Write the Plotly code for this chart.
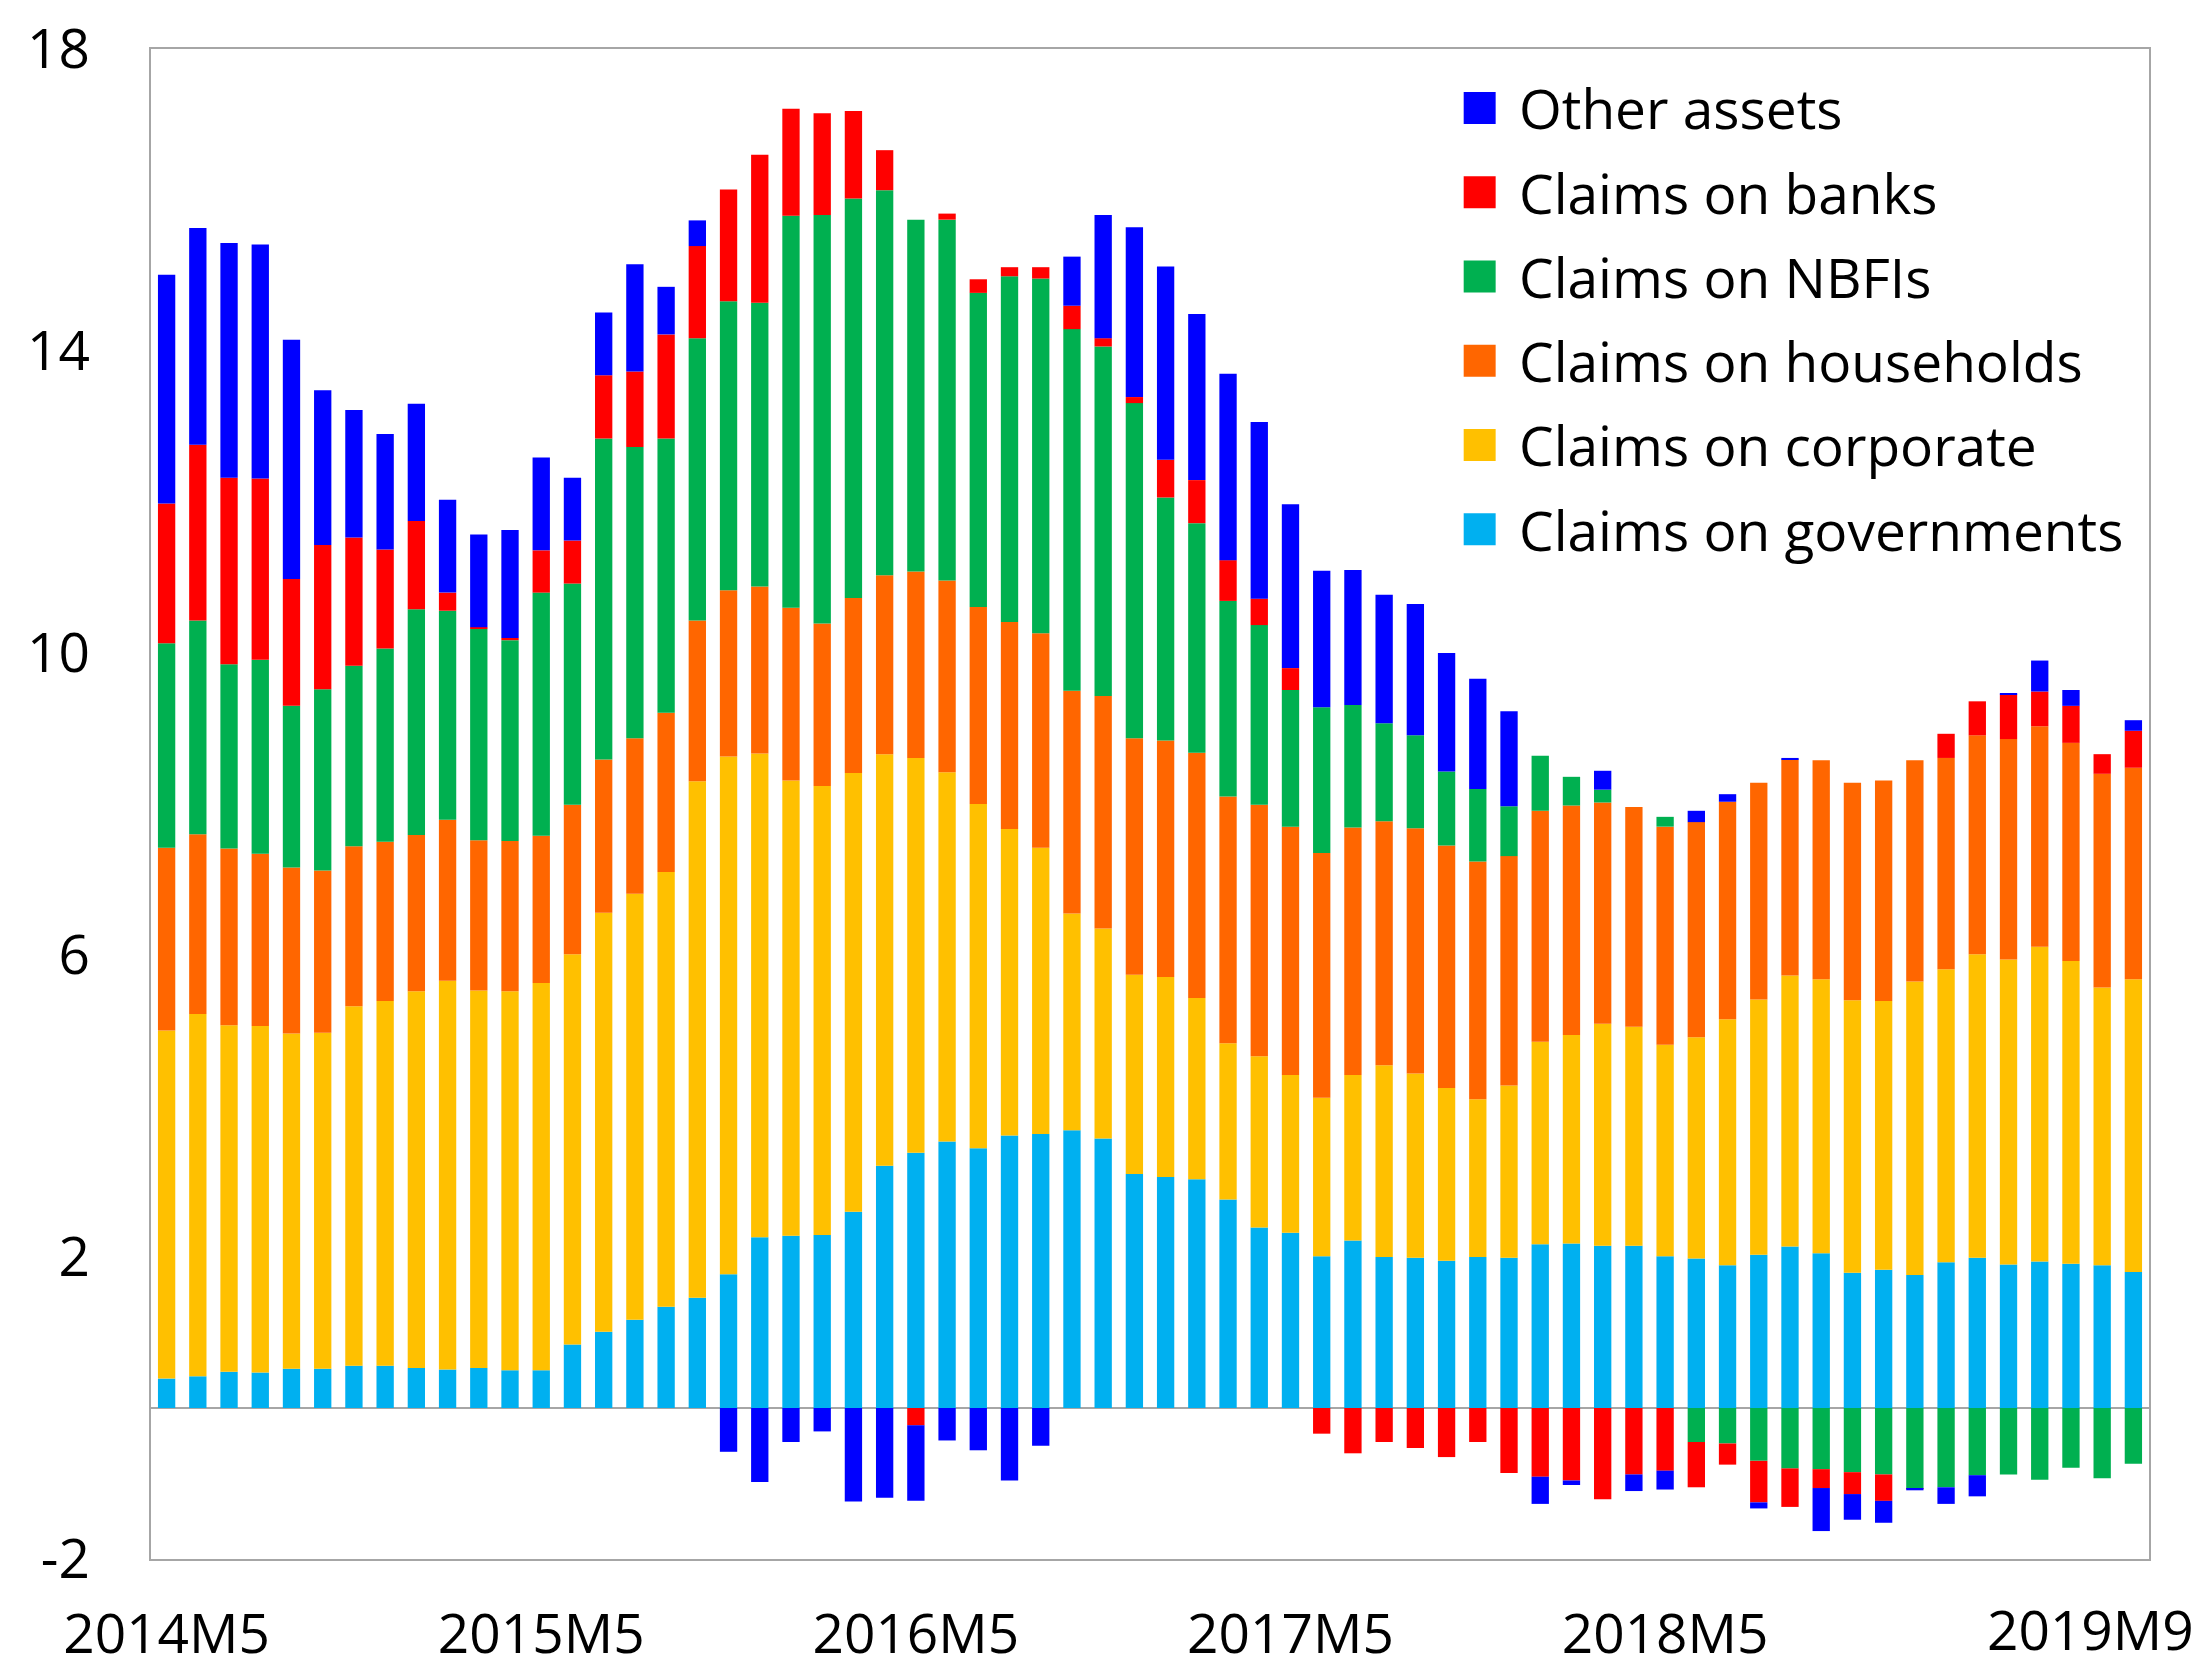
import plotly.graph_objects as go

# ---------------- data ----------------
months = [f"{y}M{m}" for y in range(2014, 2020) for m in range(1, 13)]
categories = months[months.index("2014M5"): months.index("2019M8") + 1]

tick_labels = ["2014M5", "2015M5", "2016M5", "2017M5", "2018M5"]
end_label = "2019M9"
y_ticks = [-2, 2, 6, 10, 14, 18]
y_tick_text = ["-2", "2", "6", "10", "14", "18"]

governments = [0.39, 0.42, 0.48, 0.47, 0.52, 0.52, 0.56, 0.56, 0.53, 0.51, 0.53,
               0.50, 0.50, 0.84, 1.01, 1.17, 1.34, 1.46, 1.77, 2.26, 2.28, 2.29,
               2.60, 3.21, 3.38, 3.53, 3.44, 3.61, 3.63, 3.68, 3.57, 3.10, 3.06,
               3.03, 2.76, 2.39, 2.32, 2.01, 2.22, 2.00, 1.99, 1.95, 2.00, 1.99,
               2.17, 2.18, 2.15, 2.15, 2.01, 1.98, 1.89, 2.03, 2.14, 2.05, 1.79,
               1.83, 1.76, 1.93, 1.99, 1.90, 1.94, 1.91, 1.89, 1.80]
corporate = [4.61, 4.80, 4.59, 4.59, 4.44, 4.45, 4.76, 4.83, 4.99, 5.15, 5.00,
             5.02, 5.13, 5.17, 5.55, 5.64, 5.76, 6.84, 6.86, 6.41, 6.03, 5.95,
             5.81, 5.45, 5.23, 4.89, 4.56, 4.06, 3.79, 2.87, 2.78, 2.64, 2.65,
             2.40, 2.07, 2.27, 2.09, 2.10, 2.19, 2.54, 2.44, 2.29, 2.09, 2.28,
             2.68, 2.76, 2.94, 2.90, 2.80, 2.93, 3.26, 3.38, 3.59, 3.63, 3.61,
             3.56, 3.89, 3.88, 4.02, 4.04, 4.17, 4.01, 3.68, 3.88]
households = [2.42, 2.38, 2.34, 2.28, 2.20, 2.15, 2.12, 2.11, 2.07, 2.13, 1.99,
              1.99, 1.95, 1.98, 2.03, 2.06, 2.11, 2.13, 2.20, 2.21, 2.29, 2.15,
              2.32, 2.37, 2.47, 2.54, 2.61, 2.74, 2.84, 2.95, 3.08, 3.13, 3.13,
              3.25, 3.27, 3.33, 3.29, 3.24, 3.28, 3.23, 3.25, 3.21, 3.15, 3.04,
              3.06, 3.04, 2.93, 2.91, 2.89, 2.85, 2.88, 2.87, 2.86, 2.90, 2.88,
              2.92, 2.93, 2.80, 2.90, 2.92, 2.92, 2.89, 2.83, 2.80]
nbfis = [2.71, 2.83, 2.44, 2.57, 2.14, 2.40, 2.39, 2.56, 2.99, 2.77, 2.80,
         2.66, 3.22, 2.93, 4.25, 3.86, 3.63, 3.74, 3.83, 3.76, 5.19, 5.41,
         5.29, 5.10, 4.66, 4.78, 4.16, 4.58, 4.70, 4.79, 4.63, 4.44, 3.22,
         3.04, 2.59, 2.38, 1.81, 1.93, 1.62, 1.30, 1.23, 0.98, 0.96, 0.66,
         0.73, 0.38, 0.17, 0.00, 0.13, -0.45, -0.47, -0.70, -0.80, -0.81, -0.85,
         -0.88, -1.06, -1.05, -0.89, -0.88, -0.95, -0.79, -0.93, -0.74]
banks = [1.85, 2.33, 2.47, 2.40, 1.68, 1.91, 1.70, 1.31, 1.17, 0.24, 0.02,
         0.03, 0.56, 0.57, 0.84, 1.00, 1.38, 1.22, 1.48, 1.96, 1.42, 1.35,
         1.16, 0.53, -0.23, 0.08, 0.18, 0.12, 0.15, 0.31, 0.11, 0.08, 0.50,
         0.57, 0.54, 0.35, 0.29, -0.34, -0.60, -0.45, -0.53, -0.65, -0.45, -0.86,
         -0.91, -0.96, -1.21, -0.88, -0.83, -0.60, -0.28, -0.55, -0.51, -0.25, -0.29,
         -0.35, -0.01, 0.32, 0.45, 0.59, 0.46, 0.49, 0.26, 0.49]
other = [3.03, 2.87, 3.11, 3.10, 3.17, 2.05, 1.69, 1.53, 1.55, 1.23, 1.23,
         1.43, 1.23, 0.83, 0.83, 1.42, 0.63, 0.34, -0.58, -0.98, -0.45, -0.31,
         -1.24, -1.19, -1.00, -0.43, -0.56, -0.96, -0.50, 0.65, 1.63, 2.25, 2.56,
         2.20, 2.47, 2.34, 2.17, 1.81, 1.79, 1.70, 1.74, 1.57, 1.46, 1.26,
         -0.36, -0.06, 0.25, -0.22, -0.25, 0.15, 0.10, -0.08, 0.02, -0.57, -0.34,
         -0.29, -0.02, -0.22, -0.28, 0.01, 0.41, 0.21, 0.00, 0.14]

series_names = ["Claims on governments", "Claims on corporate", "Claims on households",
                "Claims on NBFIs", "Claims on banks", "Other assets"]
series_values = [governments, corporate, households, nbfis, banks, other]
series_colors = ["#00B0F0", "#FFC000", "#FF6600", "#00B050", "#FF0000", "#0000FF"]

# ---------------- figure ----------------
FONT = "Open Sans"
FS = 55
AXIS_COLOR = "#A6A6A6"

fig = go.Figure()
for name, vals, col in zip(series_names, series_values, series_colors):
    fig.add_trace(go.Bar(x=categories, y=vals, name=name, marker_color=col,
                         marker_line_width=0, showlegend=False))

# manual legend (large square keys, top to bottom: reversed stacking order)
leg_x0, leg_x1, leg_tx = 0.657, 0.673, 0.6835
leg_top, leg_step, half = 0.961, 0.0558, 0.0106
for k, (name, col) in enumerate(zip(series_names[::-1], series_colors[::-1])):
    yc = leg_top - k * leg_step
    fig.add_shape(type="rect", xref="paper", yref="paper",
                  x0=leg_x0, x1=leg_x1, y0=yc - half, y1=yc + half,
                  fillcolor=col, line_width=0)
    fig.add_annotation(text=name, xref="paper", yref="paper", x=leg_tx, y=yc,
                       xanchor="left", yanchor="middle", showarrow=False,
                       font=dict(family=FONT, size=FS, color="black"))

# last x label (sits right of the last tick in the reference)
fig.add_annotation(text=end_label, xref="x", yref="paper", x=categories[-1], y=-0.046,
                   xanchor="center", yanchor="middle", xshift=-43, showarrow=False,
                   font=dict(family=FONT, size=FS, color="black"))

fig.update_layout(
    width=2192, height=1667,
    margin=dict(l=143, r=51, t=41, b=116, autoexpand=False),
    barmode="relative", bargap=0.445,
    plot_bgcolor="white", paper_bgcolor="white",
    font=dict(family=FONT, size=FS, color="black"),
    xaxis=dict(type="category", range=[-0.5, len(categories) - 0.5],
               tickmode="array", tickvals=tick_labels, ticktext=tick_labels,
               showgrid=False, showline=True, mirror=True, linecolor=AXIS_COLOR,
               linewidth=2, ticks="", ticklabelstandoff=26, automargin=False,
               tickfont=dict(family=FONT, size=FS, color="black")),
    yaxis=dict(range=[-2, 18.0001], tickmode="array", tickvals=y_ticks,
               ticktext=y_tick_text, ticklabeloverflow="allow",
               showgrid=False, showline=True, mirror=True, linecolor=AXIS_COLOR,
               linewidth=2, zeroline=True, zerolinecolor=AXIS_COLOR, zerolinewidth=2,
               ticks="", ticklabelstandoff=48, layer="above traces", automargin=False,
               tickfont=dict(family=FONT, size=FS, color="black")),
)

fig.write_html("out.html")
